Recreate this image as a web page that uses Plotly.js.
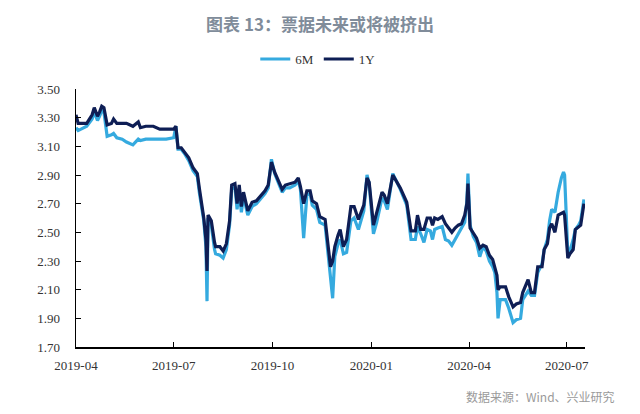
<!DOCTYPE html>
<html><head><meta charset="utf-8">
<script src="https://cdn.plot.ly/plotly-3.0.1.min.js"></script>
<style>html,body{margin:0;padding:0;background:#fff}#chart{width:640px;height:414px}</style>
</head><body><div id="chart"></div>
<script>
const dates = [
"2019-04-01","2019-04-03","2019-04-11","2019-04-16","2019-04-18","2019-04-21","2019-04-23","2019-04-25","2019-04-27","2019-04-30",
"2019-05-04","2019-05-06","2019-05-09","2019-05-14","2019-05-18","2019-05-24","2019-05-29","2019-05-31","2019-06-05","2019-06-12",
"2019-06-18","2019-06-24","2019-07-01","2019-07-03","2019-07-05","2019-07-08","2019-07-11","2019-07-15","2019-07-19","2019-07-23",
"2019-07-25","2019-07-27","2019-07-29","2019-07-31","2019-08-01","2019-08-02","2019-08-05","2019-08-08","2019-08-09","2019-08-13",
"2019-08-16","2019-08-19","2019-08-22","2019-08-24","2019-08-27","2019-08-29","2019-08-31","2019-09-02","2019-09-04","2019-09-08",
"2019-09-12","2019-09-16","2019-09-21","2019-09-24","2019-09-27","2019-09-30","2019-10-03","2019-10-10","2019-10-13","2019-10-17",
"2019-10-22","2019-10-25","2019-10-27","2019-10-30","2019-11-02","2019-11-05","2019-11-07","2019-11-11","2019-11-14","2019-11-19",
"2019-11-22","2019-11-24","2019-11-26","2019-11-28","2019-12-01","2019-12-03","2019-12-06","2019-12-09","2019-12-13","2019-12-16",
"2019-12-20","2019-12-25","2019-12-28","2019-12-30","2020-01-03","2020-01-06","2020-01-11","2020-01-13","2020-01-16","2020-01-21",
"2020-01-28","2020-02-03","2020-02-07","2020-02-11","2020-02-13","2020-02-16","2020-02-19","2020-02-22","2020-02-25","2020-02-27",
"2020-02-29","2020-03-03","2020-03-07","2020-03-10","2020-03-13","2020-03-16","2020-03-19","2020-03-22","2020-03-25","2020-03-28",
"2020-03-30","2020-03-31","2020-04-02","2020-04-05","2020-04-08","2020-04-11","2020-04-14","2020-04-17","2020-04-20","2020-04-23",
"2020-04-25","2020-04-27","2020-04-28","2020-04-30","2020-05-05","2020-05-08","2020-05-12","2020-05-15","2020-05-19","2020-05-21",
"2020-05-26","2020-05-29","2020-06-01","2020-06-04","2020-06-08","2020-06-10","2020-06-13","2020-06-15","2020-06-17","2020-06-20",
"2020-06-23","2020-06-26","2020-06-28","2020-06-29","2020-07-02","2020-07-04","2020-07-07","2020-07-09","2020-07-12","2020-07-14",
"2020-07-17"
];
const y1Y = [
3.32,3.26,3.26,3.32,3.37,3.31,3.34,3.38,3.37,3.25,
3.26,3.29,3.26,3.26,3.26,3.24,3.27,3.23,3.24,3.24,
3.22,3.22,3.22,3.24,3.09,3.09,3.06,3.02,2.95,2.91,
2.80,2.70,2.60,2.45,2.23,2.62,2.58,2.43,2.40,2.40,
2.37,2.42,2.58,2.83,2.84,2.70,2.83,2.68,2.78,2.65,
2.71,2.72,2.76,2.79,2.83,2.99,2.92,2.80,2.83,2.84,
2.85,2.88,2.82,2.70,2.79,2.79,2.72,2.70,2.61,2.59,
2.38,2.26,2.30,2.40,2.48,2.52,2.40,2.45,2.68,2.68,
2.59,2.69,2.88,2.85,2.55,2.63,2.78,2.76,2.70,2.90,
2.81,2.71,2.51,2.51,2.62,2.52,2.52,2.60,2.60,2.55,
2.60,2.59,2.61,2.56,2.53,2.50,2.53,2.55,2.56,2.62,
2.70,2.84,2.53,2.49,2.46,2.39,2.41,2.40,2.34,2.31,
2.25,2.20,2.10,2.12,2.12,2.05,1.98,2.00,2.01,2.08,
2.17,2.08,2.08,2.26,2.26,2.38,2.42,2.53,2.56,2.50,
2.62,2.63,2.64,2.62,2.32,2.35,2.38,2.52,2.54,2.55,
2.70
];
const y6M = [
3.23,3.21,3.24,3.29,3.34,3.28,3.31,3.35,3.34,3.17,
3.18,3.19,3.16,3.15,3.13,3.11,3.15,3.14,3.15,3.15,
3.15,3.15,3.16,3.24,3.08,3.08,3.05,3.00,2.93,2.89,
2.77,2.66,2.58,2.40,2.02,2.60,2.55,2.38,2.35,2.34,
2.32,2.38,2.55,2.80,2.82,2.66,2.80,2.64,2.75,2.62,
2.68,2.70,2.74,2.77,2.81,3.01,2.91,2.78,2.81,2.81,
2.83,2.86,2.80,2.46,2.76,2.77,2.69,2.66,2.57,2.55,
2.33,2.16,2.04,2.33,2.42,2.45,2.35,2.36,2.58,2.60,
2.52,2.65,2.90,2.84,2.49,2.57,2.74,2.72,2.66,2.91,
2.80,2.69,2.45,2.45,2.54,2.49,2.43,2.52,2.51,2.45,
2.52,2.53,2.54,2.45,2.44,2.41,2.45,2.48,2.52,2.57,
2.72,2.91,2.55,2.47,2.43,2.33,2.40,2.37,2.30,2.26,
2.22,2.08,1.90,2.03,2.03,1.97,1.87,1.89,1.90,2.03,
2.09,2.06,2.06,2.22,2.28,2.38,2.45,2.58,2.66,2.64,
2.78,2.88,2.92,2.90,2.35,2.37,2.45,2.52,2.55,2.58,
2.73
];
const seriesNames = ["6M","1Y"];
const xTickVals = ["2019-04-01","2019-07-01","2019-10-01","2020-01-01","2020-04-01","2020-07-01"];
const xTickText = ["2019-04","2019-07","2019-10","2020-01","2020-04","2020-07"];
const titleText = "图表 13：票据未来或将被挤出";
const sourceText = "数据来源：Wind、兴业研究";

const serif = "Liberation Serif, Times New Roman, serif";
const traces = [
  {x: dates, y: y6M, name: seriesNames[0], type: "scatter", mode: "lines",
   line: {color: "#35AADF", width: 3.2}},
  {x: dates, y: y1Y, name: seriesNames[1], type: "scatter", mode: "lines",
   line: {color: "#0E1E55", width: 3.2}}
];
const layout = {
  width: 640, height: 414,
  margin: {l: 76, r: 55, t: 89, b: 67},
  paper_bgcolor: "#fff", plot_bgcolor: "#fff",
  title: {text: titleText, x: 0.5, xref: "container", xanchor: "center",
          y: 1 - 25/414, yref: "container", yanchor: "middle",
          font: {family: "Noto Sans CJK SC, sans-serif", size: 17, color: "#808C9A", weight: "bold"}},
  showlegend: true,
  legend: {orientation: "h", x: 0.475, xanchor: "center", y: 1.116, yanchor: "middle",
           font: {family: serif, size: 13, color: "#333"}, itemwidth: 30, tracegroupgap: 0},
  xaxis: {type: "date", range: ["2019-04-01", "2020-07-18"], tickvals: xTickVals, ticktext: xTickText,
          ticks: "inside", ticklen: 5, tickcolor: "#000", showline: true, linecolor: "#000", linewidth: 1.5,
          showgrid: false, zeroline: false, tickfont: {family: serif, size: 13, color: "#333"},
          ticklabelstandoff: 6},
  yaxis: {range: [1.7, 3.5], dtick: 0.2, tick0: 1.7, tickformat: ".2f",
          ticks: "inside", ticklen: 5, tickcolor: "#000", showline: true, linecolor: "#000", linewidth: 1.5,
          showgrid: false, zeroline: false, tickfont: {family: serif, size: 13, color: "#333"},
          ticklabelstandoff: 12},
  annotations: [{text: sourceText, xref: "paper", yref: "paper", x: 1.063, y: -0.19,
                 xanchor: "right", yanchor: "middle", showarrow: false,
                 font: {family: "Noto Sans CJK SC, sans-serif", size: 12, color: "#9A9A9A"}}]
};
Plotly.newPlot("chart", traces, layout, {displayModeBar: false, staticPlot: true});
</script></body></html>
